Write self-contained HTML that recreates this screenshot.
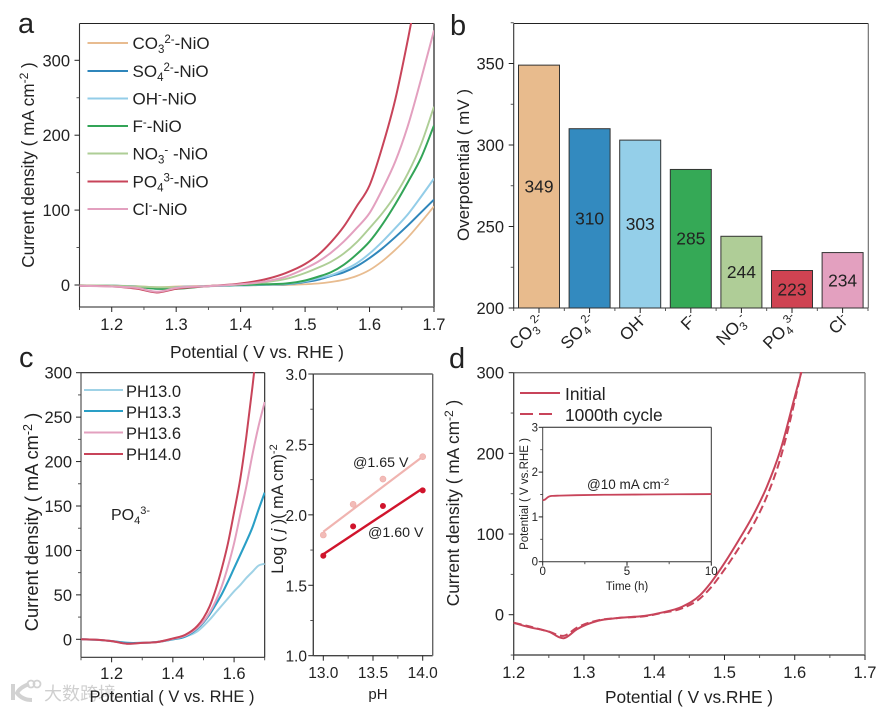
<!DOCTYPE html>
<html lang="en">
<head>
<meta charset="utf-8">
<title>Electrochemical performance panels</title>
<style>
html,body{margin:0;padding:0;background:#fff;}
svg{display:block;font-family:"Liberation Sans","Noto Sans CJK SC",sans-serif;fill:#222;}
text{fill:#222;}
</style>
</head>
<body>
<svg id="fig" width="888" height="709" viewBox="0 0 888 709" xmlns="http://www.w3.org/2000/svg">
<defs>
<clipPath id="clipA"><rect x="79" y="23" width="355" height="284"/></clipPath>
<clipPath id="clipC"><rect x="81" y="372" width="184" height="285"/></clipPath>
<clipPath id="clipD"><rect x="513" y="372" width="352" height="283"/></clipPath>
</defs>

<g>
<path d="M13 684v16M29 684c-8 3-11 7-12 9 3 4 8 7 15 7" fill="none" stroke="#d2d2d2" stroke-width="4"/>
<circle cx="31" cy="684" r="3.5" fill="none" stroke="#d2d2d2" stroke-width="1.8"/>
<circle cx="37" cy="684" r="3.5" fill="none" stroke="#d2d2d2" stroke-width="1.8"/>
<text x="44" y="700" font-size="18" style="fill:#cfcfcf" font-family="'Noto Sans CJK SC',sans-serif">大数跨境</text>
</g>

<g id="panelA">
<text x="18" y="33" font-size="29">a</text>
<text transform="translate(34,165) rotate(-90)" text-anchor="middle" font-size="17.2">Current density ( mA cm<tspan dy="-6" font-size="12">-2</tspan><tspan dy="6"> )</tspan></text>
<text x="257" y="358" text-anchor="middle" font-size="17.4">Potential ( V vs. RHE )</text>
</g>

<g id="legendA" font-size="17">
<line x1="87.5" x2="128" y1="43" y2="43" stroke="#e8bc90" stroke-width="2"/>
<text x="132.5" y="49">CO<tspan dy="4" font-size="11.5">3</tspan><tspan dy="-10" font-size="11.5">2-</tspan><tspan dy="6">-NiO</tspan></text>
<line x1="87.5" x2="128" y1="71" y2="71" stroke="#2f86bb" stroke-width="2"/>
<text x="132.5" y="77">SO<tspan dy="4" font-size="11.5">4</tspan><tspan dy="-10" font-size="11.5">2-</tspan><tspan dy="6">-NiO</tspan></text>
<line x1="87.5" x2="128" y1="98.5" y2="98.5" stroke="#93cde8" stroke-width="2"/>
<text x="132.5" y="104.5">OH<tspan dy="-6" font-size="11.5">-</tspan><tspan dy="6">-NiO</tspan></text>
<line x1="87.5" x2="128" y1="126" y2="126" stroke="#33a457" stroke-width="2"/>
<text x="132.5" y="132">F<tspan dy="-6" font-size="11.5">-</tspan><tspan dy="6">-NiO</tspan></text>
<line x1="87.5" x2="128" y1="153.5" y2="153.5" stroke="#aece96" stroke-width="2"/>
<text x="132.5" y="159.5">NO<tspan dy="4" font-size="11.5">3</tspan><tspan dy="-10" font-size="11.5">-</tspan><tspan dy="6"> -NiO</tspan></text>
<line x1="87.5" x2="128" y1="181.5" y2="181.5" stroke="#c8445a" stroke-width="2"/>
<text x="132.5" y="187.5">PO<tspan dy="4" font-size="11.5">4</tspan><tspan dy="-10" font-size="11.5">3-</tspan><tspan dy="6">-NiO</tspan></text>
<line x1="87.5" x2="128" y1="209" y2="209" stroke="#e3a0bf" stroke-width="2"/>
<text x="132.5" y="215">Cl<tspan dy="-6" font-size="11.5">-</tspan><tspan dy="6">-NiO</tspan></text>
</g>

<g id="panelB">
<text x="450" y="35" font-size="29">b</text>
<text transform="translate(469,165) rotate(-90)" text-anchor="middle" font-size="17">Overpotential ( mV )</text>
</g>

<g id="panelC">
<text x="19" y="367" font-size="29">c</text>
<text transform="translate(38,522) rotate(-90)" text-anchor="middle" font-size="18.3">Current density ( mA cm<tspan dy="-6" font-size="12.5">-2</tspan><tspan dy="6"> )</tspan></text>
<text x="172" y="702" text-anchor="middle" font-size="16.5">Potential ( V vs. RHE )</text>
<text x="111" y="520" font-size="16">PO<tspan dy="4" font-size="11">4</tspan><tspan dy="-10" font-size="11">3-</tspan></text>
</g>

<g id="legendC" font-size="16.5">
<line x1="84" x2="123" y1="390" y2="390" stroke="#9fd2e6" stroke-width="2"/>
<text x="126" y="397">PH13.0</text>
<line x1="84" x2="123" y1="411" y2="411" stroke="#2a9fc6" stroke-width="2"/>
<text x="126" y="418">PH13.3</text>
<line x1="84" x2="123" y1="432.5" y2="432.5" stroke="#e3a0bf" stroke-width="2"/>
<text x="126" y="439">PH13.6</text>
<line x1="84" x2="123" y1="454" y2="454" stroke="#c8445a" stroke-width="2"/>
<text x="126" y="460">PH14.0</text>
</g>

<g id="panelE">
<text transform="translate(283,509) rotate(-90)" text-anchor="middle" font-size="16.2">Log ( <tspan font-style="italic">j</tspan> )( mA cm)<tspan dy="-6" font-size="11">-2</tspan></text>
<text x="378" y="699" text-anchor="middle" font-size="15">pH</text>
<text x="353" y="467" font-size="14.2">@1.65 V</text>
<text x="368" y="537" font-size="14.2">@1.60 V</text>
</g>

<g id="panelD">
<text x="449" y="368" font-size="29">d</text>
<text transform="translate(459,503) rotate(-90)" text-anchor="middle" font-size="17.3">Current density ( mA cm<tspan dy="-6" font-size="12">-2</tspan><tspan dy="6"> )</tspan></text>
<text x="689" y="703" text-anchor="middle" font-size="17.3">Potential ( V vs.RHE )</text>
<line x1="520" x2="560" y1="393" y2="393" stroke="#c8445a" stroke-width="2"/>
<text x="565" y="400" font-size="17.4">Initial</text>
<line x1="520" x2="552" y1="414" y2="414" stroke="#c8445a" stroke-width="2" stroke-dasharray="13 6"/>
<text x="565" y="421" font-size="17.4">1000th cycle</text>
</g>

<g id="inset">
<text transform="translate(528,494) rotate(-90)" text-anchor="middle" font-size="11.5">Potential ( V vs.RHE )</text>
<text x="627" y="590" text-anchor="middle" font-size="11.5">Time (h)</text>
<text x="587" y="489" font-size="13.5">@10 mA cm<tspan dy="-4" font-size="9.5">-2</tspan></text>
</g>

<script>
// Panel a data
const aPotential = [1.15,1.2,1.24,1.27,1.3,1.35,1.4,1.44,1.47,1.5,1.52,1.54,1.56,1.58,1.6,1.62,1.64,1.66,1.68,1.7];
const aCO3 = [-1,-1,-1.5,-3,-2,-1,-0.5,0,0,1,2,4,7,12,20,32,47,64,84,105];
const aSO4 = [-1,-1,-2,-5,-3,-1.5,-0.5,0.3,1,4,7,12,17,25,36,49,64,80,97,114];
const aOH = [-1,-1,-2,-5,-3,-1.5,-0.5,0.5,1.5,5,9,13,20,29,42,58,76,95,118,142];
const aF = [-0.5,-1,-2.5,-5,-5,-1.5,0,1,2,6,11,17,27,41,58,81,108,138,170,213];
const aNO3 = [-0.5,-1,-2,-3,-3,-1.5,1,4,8,16,23,31,42,57,76,96,120,150,188,238];
const aPO4 = [-1,-2,-5,-10,-5,-1.5,2,8,16,28,40,57,78,105,133,185,248,330,420,510];
const aCl = [-1,-2,-4,-9,-4,-1.5,1,5,11,22,31,43,58,76,96,128,165,214,275,340];
const aXTicks = [1.2,1.3,1.4,1.5,1.6,1.7];
const aYTicks = [0,100,200,300];

// Panel b data
const bCategories = ['CO','SO','OH','F','NO','PO','Cl'];
const bCategorySub = ['3','4','','','3','4',''];
const bCategorySup = ['2-','2-','-','-','-','3-','-'];
const bValues = [349,310,303,285,244,223,234];
const bColors = ['#e8bb8d','#338abf','#94cfe9','#35a956','#afcd97','#cf4352','#e3a0bf'];
const bYTicks = [200,250,300,350];

// Panel c data
const cPotential = [1.1,1.15,1.2,1.25,1.3,1.35,1.4,1.44,1.48,1.5,1.52,1.54,1.56,1.58,1.6,1.62,1.64,1.66,1.68,1.7];
const cPH130 = [0,-0.5,-2,-4,-4,-3,0,3,9,15,22,30,38,46,54,61,69,76,83,85];
const cPH133 = [0,-0.5,-2,-4,-4,-3,0,3,12,19,28,39,51,65,80,95,110,126,146,165];
const cPH136 = [0,-0.5,-2,-5,-4,-3,0.5,4,13,20,30,43,60,82,108,140,172,208,240,267];
const cPH140 = [0,-0.5,-2,-5,-4,-3,1,5,15,24,37,56,80,108,143,180,228,284,345,400];
const cXTicks = [1.2,1.4,1.6];
const cYTicks = [0,50,100,150,200,250,300];

// pH plot data
const phValues = [13,13.3,13.6,14];
const log165 = [1.857,2.075,2.254,2.413];
const log160 = [1.71,1.918,2.063,2.174];
const fitPH = [13,14];
const fit165 = [1.88,2.413];
const fit160 = [1.72,2.188];
const phXTicks = ['13.0','13.5','14.0'];
const phYTicks = ['1.0','1.5','2.0','2.5','3.0'];

// Panel d data
const dPotential = [1.2,1.22,1.25,1.272,1.29,1.32,1.35,1.39,1.41,1.44,1.465,1.48,1.5,1.52,1.54,1.56,1.58,1.6,1.62];
const dInitial = [-10,-15,-21,-29,-18,-7.5,-4,-1,2.5,10,24,39,64,92,122,158,205,270,335];
const dCycled = [-10,-14,-21,-26,-16,-7,-4,-1.5,2,8,20,33,56,82,110,146,195,265,345];
const dXTicks = ['1.2','1.3','1.4','1.5','1.6','1.7'];
const dYTicks = [0,100,200,300];

// Inset data
const insetTime = [0,0.15,0.3,0.45,0.6,1,2,4,6,8,10];
const insetPotential = [1.37,1.39,1.44,1.465,1.47,1.475,1.485,1.495,1.5,1.505,1.51];
const insetXTicks = [0,5,10];
const insetYTicks = [0,1,2,3];

const NS = 'http://www.w3.org/2000/svg';
function scale(d0, d1, r0, r1) {
  return function (v) { return r0 + (v - d0) * (r1 - r0) / (d1 - d0); };
}
function make(parent, tag, attrs, name) {
  const el = document.createElementNS(NS, tag);
  for (const k in attrs) el.setAttribute(k, attrs[k]);
  
  
  parent.appendChild(el);
  return el;
}
function smoothPath(xs, ys) {
  const n = xs.length, dx = [], m = [], t = [];
  for (let i = 0; i < n - 1; i++) { dx[i] = xs[i + 1] - xs[i]; m[i] = (ys[i + 1] - ys[i]) / dx[i]; }
  t[0] = m[0]; t[n - 1] = m[n - 2];
  for (let i = 1; i < n - 1; i++) t[i] = (m[i - 1] * dx[i] + m[i] * dx[i - 1]) / (dx[i - 1] + dx[i]);
  let d = 'M' + xs[0].toFixed(2) + ' ' + ys[0].toFixed(2);
  for (let i = 0; i < n - 1; i++) {
    const h = dx[i] / 3;
    d += 'C' + (xs[i] + h).toFixed(2) + ' ' + (ys[i] + t[i] * h).toFixed(2) + ' ' +
         (xs[i + 1] - h).toFixed(2) + ' ' + (ys[i + 1] - t[i + 1] * h).toFixed(2) + ' ' +
         xs[i + 1].toFixed(2) + ' ' + ys[i + 1].toFixed(2);
  }
  return d;
}
function curve(parent, xVals, yVals, sx, sy, color, width, name, clip, dash) {
  const attrs = { d: smoothPath(xVals.map(sx), yVals.map(sy)), fill: 'none', stroke: color, 'stroke-width': width };
  if (clip) attrs['clip-path'] = 'url(#' + clip + ')';
  if (dash) attrs['stroke-dasharray'] = dash;
  return make(parent, 'path', attrs, name);
}
function frame(parent, x0, x1, y0, y1, colors, width, name) {
  make(parent, 'line', { x1: x0, x2: x1, y1: y0, y2: y0, stroke: colors.top, 'stroke-width': width }, name + '-top');
  make(parent, 'line', { x1: x0, x2: x1, y1: y1, y2: y1, stroke: colors.bottom, 'stroke-width': width }, name + '-bottom');
  make(parent, 'line', { x1: x0, x2: x0, y1: y0, y2: y1, stroke: colors.left, 'stroke-width': width }, name + '-left');
  make(parent, 'line', { x1: x1, x2: x1, y1: y0, y2: y1, stroke: colors.right, 'stroke-width': colors.rightWidth || width }, name + '-right');
}
function xTicks(parent, ticks, sx, y, len, labelY, size, name) {
  ticks.forEach(function (t) {
    const x = sx(+t);
    make(parent, 'line', { x1: x, x2: x, y1: y, y2: y + len, stroke: '#222', 'stroke-width': 1 }, name + '-tick');
    const txt = make(parent, 'text', { x: x, y: labelY, 'text-anchor': 'middle', 'font-size': size }, name + '-tick-label');
    txt.textContent = t;
  });
}
function yTicks(parent, ticks, sy, x, len, labelX, size, name, off) {
  ticks.forEach(function (t) {
    const y = sy(+t);
    make(parent, 'line', { x1: x - len, x2: x, y1: y, y2: y, stroke: '#222', 'stroke-width': 1 }, name + '-tick');
    const txt = make(parent, 'text', { x: labelX, y: y + off, 'text-anchor': 'end', 'font-size': size }, name + '-tick-label');
    txt.textContent = t;
  });
}
function minorX(parent, ticks, sx, y, len, name) {
  ticks.forEach(function (t) {
    make(parent, 'line', { x1: sx(t), x2: sx(t), y1: y, y2: y + len, stroke: '#444', 'stroke-width': 0.9 }, name + '-minor-tick');
  });
}
function minorY(parent, ticks, sy, x, len, name) {
  ticks.forEach(function (t) {
    make(parent, 'line', { x1: x - len, x2: x, y1: sy(t), y2: sy(t), stroke: '#444', 'stroke-width': 0.9 }, name + '-minor-tick');
  });
}
function midpoints(ticks) {
  const out = [];
  for (let i = 0; i < ticks.length - 1; i++) out.push((+ticks[i] + +ticks[i + 1]) / 2);
  return out;
}

/* Panel a */
(function () {
  const g = document.getElementById('panelA');
  const sx = scale(1.15, 1.7, 79.5, 434);
  const sy = scale(0, 300, 285, 60.3);
  frame(g, 79.5, 434, 23.5, 307, { top: '#222', bottom: '#222', left: '#333', right: '#777', rightWidth: 2 }, 1.1, 'panel-a-frame');
  xTicks(g, aXTicks.map(function (t) { return t.toFixed(1); }), sx, 307, 5, 330, 16.5, 'panel-a-x');
  yTicks(g, aYTicks, sy, 79.5, 5, 70, 16.5, 'panel-a-y', 6);
  minorX(g, [1.15].concat(midpoints(aXTicks)), sx, 307, 3, 'panel-a-x');
  minorY(g, midpoints(aYTicks), sy, 79.5, 3, 'panel-a-y');
  curve(g, aPotential, aCO3, sx, sy, '#e8bc90', 1.8, 'curve-co3', 'clipA');
  curve(g, aPotential, aSO4, sx, sy, '#2f86bb', 2, 'curve-so4', 'clipA');
  curve(g, aPotential, aOH, sx, sy, '#93cde8', 2, 'curve-oh', 'clipA');
  curve(g, aPotential, aF, sx, sy, '#33a457', 2, 'curve-f', 'clipA');
  curve(g, aPotential, aNO3, sx, sy, '#aece96', 1.9, 'curve-no3', 'clipA');
  curve(g, aPotential, aPO4, sx, sy, '#c8445a', 2, 'curve-po4', 'clipA');
  curve(g, aPotential, aCl, sx, sy, '#e3a0bf', 2, 'curve-cl', 'clipA');
})();

/* Panel b */
(function () {
  const g = document.getElementById('panelB');
  const sy = scale(200, 350, 308, 63.5);
  const step = 50.6, firstCenter = 539;
  const sx = function (i) { return firstCenter + i * step; };
  frame(g, 513.7, 868.3, 23.5, 308, { top: '#222', bottom: '#333', left: '#333', right: '#666' }, 1.1, 'panel-b-frame');
  yTicks(g, bYTicks, sy, 513.7, 5, 504, 16.5, 'panel-b-y', 6);
  minorY(g, midpoints(bYTicks).concat([375]), sy, 513.7, 3, 'panel-b-y');
  bValues.forEach(function (v, i) {
    const top = sy(v), bottom = sy(200);
    make(g, 'rect', { x: sx(i) - 20.5, y: top, width: 41, height: bottom - top, fill: bColors[i], stroke: '#333', 'stroke-width': 1 }, 'bar-' + bCategories[i].toLowerCase());
    const lab = make(g, 'text', { x: sx(i), y: (top + bottom) / 2 + 6, 'text-anchor': 'middle', 'font-size': 17.4 }, 'bar-value-' + bCategories[i].toLowerCase());
    lab.textContent = v;
    make(g, 'line', { x1: sx(i), x2: sx(i), y1: 308, y2: 313, stroke: '#222', 'stroke-width': 1 }, 'panel-b-x-tick');
    make(g, 'line', { x1: sx(i) - step / 2, x2: sx(i) - step / 2, y1: 308, y2: 311, stroke: '#444', 'stroke-width': 0.9 }, 'panel-b-x-minor-tick');
    const cat = make(g, 'text', { transform: 'translate(' + (sx(i) + 7) + ',321) rotate(-45)', 'text-anchor': 'end', 'font-size': 17 }, 'category-label-' + bCategories[i].toLowerCase());
    cat.appendChild(document.createTextNode(bCategories[i]));
    let back = 0;
    if (bCategorySub[i]) {
      const s = document.createElementNS(NS, 'tspan');
      s.setAttribute('dy', '4');
      s.setAttribute('font-size', '11.5');
      s.textContent = bCategorySub[i];
      cat.appendChild(s);
      back = 4;
    }
    const u = document.createElementNS(NS, 'tspan');
    u.setAttribute('dy', String(-6 - back));
    u.setAttribute('font-size', '11.5');
    u.textContent = bCategorySup[i];
    cat.appendChild(u);
  });
  make(g, 'line', { x1: 868, x2: 868, y1: 308, y2: 311, stroke: '#444', 'stroke-width': 0.9 }, 'panel-b-x-minor-tick');
})();

/* Panel c left */
(function () {
  const g = document.getElementById('panelC');
  const sx = scale(1.1, 1.7, 81, 264.7);
  const sy = scale(0, 300, 639.3, 372.7);
  frame(g, 81, 264.7, 372.7, 657.3, { top: '#222', bottom: '#333', left: '#444', right: '#222' }, 1.1, 'panel-c-frame');
  xTicks(g, cXTicks.map(function (t) { return t.toFixed(1); }), sx, 657.3, 5, 679, 16.5, 'panel-c-x');
  yTicks(g, cYTicks, sy, 81, 5, 72, 16.5, 'panel-c-y', 6);
  minorX(g, [1.1, 1.3, 1.5, 1.7], sx, 657.3, 3, 'panel-c-x');
  minorY(g, midpoints(cYTicks), sy, 81, 3, 'panel-c-y');
  curve(g, cPotential, cPH130, sx, sy, '#9fd2e6', 2, 'curve-ph130', 'clipC');
  curve(g, cPotential, cPH133, sx, sy, '#2a9fc6', 2.1, 'curve-ph133', 'clipC');
  curve(g, cPotential, cPH136, sx, sy, '#e3a0bf', 2, 'curve-ph136', 'clipC');
  curve(g, cPotential, cPH140, sx, sy, '#c8445a', 2, 'curve-ph140', 'clipC');
})();

/* pH plot */
(function () {
  const g = document.getElementById('panelE');
  const sx = scale(13, 14, 323.3, 422.7);
  const sy = scale(1, 3, 655.7, 374);
  frame(g, 313.3, 432.7, 374, 655.7, { top: '#666', bottom: '#444', left: '#444', right: '#666' }, 1.4, 'ph-plot-frame');
  xTicks(g, phXTicks, sx, 655.7, 5, 678, 15.5, 'ph-plot-x');
  yTicks(g, phYTicks, sy, 313.3, 5, 307, 15.5, 'ph-plot-y', 6);
  minorX(g, [13.25, 13.75], sx, 655.7, 3, 'ph-plot-x');
  minorY(g, midpoints(phYTicks), sy, 313.3, 3, 'ph-plot-y');
  make(g, 'line', { x1: sx(fitPH[0]), x2: sx(fitPH[1]), y1: sy(fit165[0]), y2: sy(fit165[1]), stroke: '#f0b4b0', 'stroke-width': 2.2 }, 'fit-line-165v');
  make(g, 'line', { x1: sx(fitPH[0]), x2: sx(fitPH[1]), y1: sy(fit160[0]), y2: sy(fit160[1]), stroke: '#d0142c', 'stroke-width': 2.4 }, 'fit-line-160v');
  phValues.forEach(function (p, i) {
    make(g, 'circle', { cx: sx(p), cy: sy(log165[i]), r: 3, fill: '#f2bcb8', stroke: '#eeaaa6', 'stroke-width': 0.6 }, 'point-165v');
    make(g, 'circle', { cx: sx(p), cy: sy(log160[i]), r: 3, fill: '#d0142c' }, 'point-160v');
  });
})();

/* Panel d */
(function () {
  const g = document.getElementById('panelD');
  const sx = scale(1.2, 1.7, 513.7, 865);
  const sy = scale(0, 300, 614.7, 372.7);
  frame(g, 513.7, 865, 372.7, 655, { top: '#777', bottom: '#333', left: '#444', right: '#777' }, 1.3, 'panel-d-frame');
  xTicks(g, dXTicks, sx, 655, 5, 678, 16.5, 'panel-d-x');
  yTicks(g, dYTicks, sy, 513.7, 5, 504, 16.5, 'panel-d-y', 6);
  minorX(g, midpoints(dXTicks), sx, 655, 3, 'panel-d-x');
  minorY(g, midpoints(dYTicks).concat([-50]), sy, 513.7, 3, 'panel-d-y');
  curve(g, dPotential, dCycled, sx, sy, '#c8445a', 2, 'curve-1000th-cycle', 'clipD', '8 4');
  curve(g, dPotential, dInitial, sx, sy, '#c8445a', 2, 'curve-initial', 'clipD');
})();

/* Inset */
(function () {
  const g = document.getElementById('inset');
  const sx = scale(0, 10, 542.7, 711.3);
  const sy = scale(0, 3, 561.7, 427.3);
  frame(g, 542.7, 711.3, 427.3, 561.7, { top: '#222', bottom: '#333', left: '#444', right: '#333' }, 1, 'inset-frame');
  xTicks(g, insetXTicks, sx, 561.7, 4, 575, 11.5, 'inset-x');
  yTicks(g, insetYTicks, sy, 542.7, 4, 538, 11.5, 'inset-y', 4);
  minorX(g, [2.5, 7.5], sx, 561.7, 2.5, 'inset-x');
  minorY(g, midpoints(insetYTicks), sy, 542.7, 2.5, 'inset-y');
  curve(g, insetTime, insetPotential, sx, sy, '#c8445a', 1.8, 'inset-curve');
})();
</script>
</svg>
</body>
</html>
